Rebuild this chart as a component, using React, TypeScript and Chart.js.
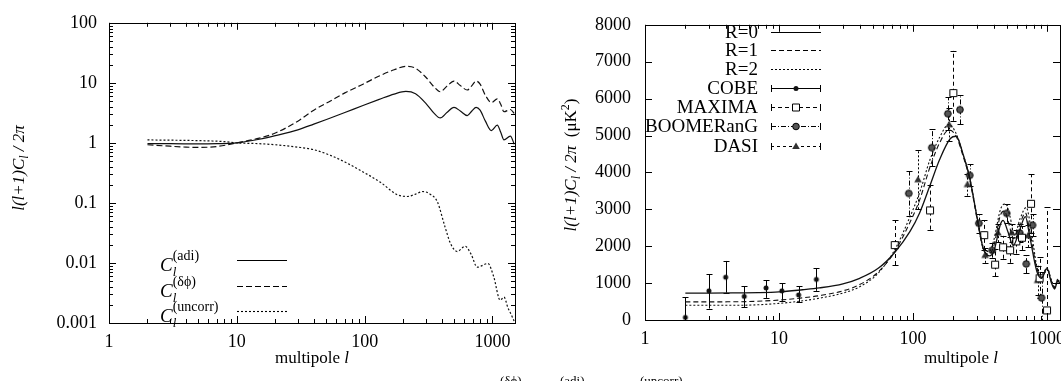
import React, { useEffect, useRef } from "react";
import { Chart, registerables } from "chart.js";
Chart.register(...registerables);

const SERIF = '"Liberation Serif", "Times New Roman", serif';
const fnt = (size: number, style = "") => `${style} ${size}px ${SERIF}`.trim();

// ---------------- Left panel data ----------------
const adiL = [2, 3, 5, 7, 10, 15, 20, 30, 40, 54, 70, 97, 130, 170, 210, 250, 300, 350, 390, 440, 500, 560, 635, 690, 745, 800, 880, 980, 1090, 1160, 1230, 1380, 1480];
const adiV = [0.97, 0.97, 0.96, 0.97, 1.0, 1.15, 1.32, 1.65, 2.05, 2.6, 3.2, 4.2, 5.3, 6.5, 7.2, 6.6, 4.6, 3.1, 2.6, 3.2, 3.9, 3.4, 2.85, 3.4, 3.9, 3.5, 2.3, 1.6, 1.97, 1.5, 1.12, 1.3, 0.95];
const dphiL = [2, 3, 4, 5, 7, 10, 15, 20, 30, 40, 54, 70, 97, 130, 170, 210, 250, 300, 350, 390, 440, 500, 560, 635, 690, 745, 800, 880, 980, 1090, 1160, 1230, 1380, 1480];
const dphiV = [0.93, 0.88, 0.85, 0.84, 0.87, 1.0, 1.2, 1.46, 2.3, 3.5, 5.0, 6.8, 9.5, 13, 16.5, 18.8, 17.5, 12.5, 8.5, 7.1, 8.8, 10.7, 9.0, 7.6, 9.0, 10.7, 9.5, 6.2, 4.7, 5.4, 4.4, 3.3, 3.6, 3.1];
const uncL = [2, 4, 6, 8, 10, 15, 20, 30, 40, 54, 70, 90, 133, 180, 215, 250, 285, 325, 370, 425, 470, 530, 610, 680, 760, 920, 1020, 1150, 1230, 1320, 1420, 1500];
const uncV = [1.12, 1.1, 1.08, 1.05, 1.0, 0.97, 0.93, 0.85, 0.77, 0.62, 0.48, 0.36, 0.22, 0.137, 0.128, 0.14, 0.155, 0.14, 0.105, 0.04, 0.021, 0.0155, 0.019, 0.014, 0.0085, 0.0098, 0.006, 0.0024, 0.0027, 0.0018, 0.0013, 0.001];
const leftXTicks = [1, 10, 100, 1000];
const leftYTicks = [0.001, 0.01, 0.1, 1, 10, 100];
const leftLegendSup = ["(adi)", "(δϕ)", "(uncorr)"];

// ---------------- Right panel data ----------------
const r0L = [2, 3, 5, 7, 10, 15, 20, 30, 40, 55, 73, 95, 112, 134, 158, 190, 210, 236, 265, 300, 333, 370, 400, 450, 470, 510, 560, 620, 690, 740, 840, 910, 1000, 1080, 1140, 1200, 1250];
const r0V = [730, 730, 735, 740, 760, 820, 870, 980, 1130, 1400, 1830, 2400, 2900, 3650, 4350, 4920, 4980, 4500, 3850, 2800, 1950, 1740, 1850, 2600, 2700, 2400, 2020, 2400, 2800, 2300, 1310, 1130, 1390, 1000, 840, 1050, 1000];
const r1L = [2, 5, 10, 15, 20, 30, 40, 55, 73, 95, 112, 134, 158, 185, 210, 236, 265, 300, 333, 370, 400, 450, 480, 520, 560, 620, 690, 740, 840, 910, 1000, 1080, 1140, 1200, 1250];
const r1V = [490, 495, 540, 600, 660, 790, 960, 1300, 1850, 2650, 3250, 4150, 4800, 5150, 4980, 4450, 3800, 2750, 1950, 1780, 2000, 2850, 2950, 2600, 2200, 2550, 2900, 2450, 1400, 1150, 1400, 1050, 880, 1080, 1030];
const r2L = [2, 5, 10, 15, 20, 30, 40, 55, 73, 95, 112, 134, 158, 185, 210, 236, 265, 300, 333, 370, 400, 450, 490, 530, 570, 630, 700, 750, 840, 910, 1000, 1080, 1140, 1200, 1250];
const r2V = [400, 400, 450, 520, 590, 730, 900, 1270, 1900, 2800, 3450, 4350, 4950, 5300, 5050, 4500, 3850, 2800, 2000, 1850, 2150, 3000, 3150, 2800, 2300, 2750, 3050, 2600, 1450, 1180, 1420, 1080, 900, 1100, 1050];

const cobeL = [2, 3, 4, 5.5, 8, 10.5, 14, 19];
const cobeV = [70, 790, 1160, 640, 870, 790, 680, 1100];
const cobeLo = [0, 310, 740, 340, 600, 520, 480, 790];
const cobeHi = [620, 1240, 1600, 920, 1080, 1000, 920, 1400];

const maximaL = [73, 134, 200, 340, 410, 470, 530, 590, 650, 760, 880, 1000];
const maximaV = [2030, 2970, 6150, 2300, 1500, 1970, 1890, 2130, 2230, 3150, 1130, 260];
const maximaLo = [1490, 2450, 5400, 1900, 1180, 1660, 1550, 1800, 1900, 2350, 600, 0];
const maximaHi = [2700, 3650, 7300, 2700, 1920, 2280, 2250, 2450, 2550, 3950, 1700, 3060];

const boomL = [93, 138, 182, 224, 265, 310, 390, 500, 625, 700, 780, 910];
const boomV = [3430, 4670, 5590, 5700, 3920, 2620, 1890, 2890, 2360, 1520, 2570, 600];
const boomErr = [600, 500, 450, 400, 300, 250, 200, 250, 250, 250, 300, 700];

const dasiL = [109, 186, 255, 345, 430, 545, 720, 850];
const dasiV = [3800, 5290, 3670, 1750, 2360, 2360, 2280, 1070];
const dasiErr = [800, 450, 300, 200, 250, 250, 300, 400];

const rightXTicks = [1, 10, 100, 1000];
const rightYTicks = [0, 1000, 2000, 3000, 4000, 5000, 6000, 7000, 8000];
const rightLegendLabels = ["R=0", "R=1", "R=2", "COBE", "MAXIMA", "BOOMERanG", "DASI"];

// cut-off caption fragments at the bottom of the scan
const captionBits = ["(δϕ)", "(adi)", "(uncorr)"];

// ---------------- helpers ----------------
const pts = (xs: number[], ys: number[]) => xs.map((x, i) => ({ x, y: ys[i] }));
const logMinor = (lo: number, hi: number) => {
  const out: number[] = [];
  for (let d = Math.floor(Math.log10(lo)); d <= Math.ceil(Math.log10(hi)); d++) {
    for (let k = 2; k <= 9; k++) {
      const v = k * Math.pow(10, d);
      if (v > lo && v < hi) out.push(v);
    }
  }
  return out;
};

type Run = { t: string; f: string; dy?: number };
const drawRuns = (ctx: CanvasRenderingContext2D, runs: Run[], x: number, y: number, align = "left") => {
  let w = 0;
  runs.forEach((r) => { ctx.font = r.f; w += ctx.measureText(r.t).width; });
  let cx = align === "center" ? x - w / 2 : align === "right" ? x - w : x;
  ctx.textAlign = "left";
  ctx.textBaseline = "alphabetic";
  runs.forEach((r) => { ctx.font = r.f; ctx.fillText(r.t, cx, y + (r.dy || 0)); cx += ctx.measureText(r.t).width; });
};

const drawMarker = (ctx: CanvasRenderingContext2D, style: string, x: number, y: number) => {
  ctx.save();
  ctx.setLineDash([]);
  ctx.lineWidth = 1;
  ctx.strokeStyle = "#000";
  ctx.beginPath();
  if (style === "circleSmall") { ctx.fillStyle = "#111"; ctx.arc(x, y, 2.5, 0, Math.PI * 2); ctx.fill(); }
  else if (style === "square") { ctx.fillStyle = "#fff"; ctx.rect(x - 3.5, y - 3.5, 7, 7); ctx.fill(); ctx.stroke(); }
  else if (style === "circle") { ctx.fillStyle = "#555"; ctx.arc(x, y, 3.3, 0, Math.PI * 2); ctx.fill(); ctx.stroke(); }
  else if (style === "triangle") { ctx.fillStyle = "#333"; ctx.moveTo(x, y - 4); ctx.lineTo(x + 3.8, y + 2.6); ctx.lineTo(x - 3.8, y + 2.6); ctx.closePath(); ctx.fill(); }
  ctx.restore();
};

const frameTicks = {
  id: "frameTicks",
  afterDraw(chart: any, _a: any, opts: any) {
    const { ctx, chartArea: a, scales } = chart;
    const xs = scales.x, ys = scales.y;
    ctx.save();
    ctx.strokeStyle = "#000";
    ctx.lineWidth = 1;
    ctx.setLineDash([]);
    ctx.strokeRect(Math.round(a.left) + 0.5, Math.round(a.top) + 0.5, Math.round(a.right - a.left), Math.round(a.bottom - a.top));
    const line = (x1: number, y1: number, x2: number, y2: number) => { ctx.beginPath(); ctx.moveTo(x1, y1); ctx.lineTo(x2, y2); ctx.stroke(); };
    const tx = (v: number, len: number) => { const p = Math.round(xs.getPixelForValue(v)) + 0.5; line(p, a.bottom, p, a.bottom - len); line(p, a.top, p, a.top + len); };
    const ty = (v: number, len: number) => { const p = Math.round(ys.getPixelForValue(v)) + 0.5; line(a.left, p, a.left + len, p); line(a.right, p, a.right - len, p); };
    (opts.xMajor || []).forEach((v: number) => tx(v, 7));
    (opts.xMinor || []).forEach((v: number) => tx(v, 4));
    (opts.yMajor || []).forEach((v: number) => ty(v, 7));
    (opts.yMinor || []).forEach((v: number) => ty(v, 4));
    ctx.restore();
  },
};

const errorBars = {
  id: "errorBars",
  beforeDatasetsDraw(chart: any) {
    const { ctx, scales, chartArea: a } = chart;
    const xs = scales.x, ys = scales.y;
    ctx.save();
    ctx.beginPath();
    ctx.rect(a.left, a.top, a.right - a.left, a.bottom - a.top);
    ctx.clip();
    ctx.strokeStyle = "#000";
    ctx.lineWidth = 1;
    chart.data.datasets.forEach((ds: any) => {
      if (!ds.errLo) return;
      ds.data.forEach((p: any, i: number) => {
        const px = Math.round(xs.getPixelForValue(p.x)) + 0.5;
        const y1 = ys.getPixelForValue(ds.errLo[i]);
        const y2 = ys.getPixelForValue(ds.errHi[i]);
        ctx.setLineDash(ds.errDash || []);
        ctx.beginPath(); ctx.moveTo(px, y1); ctx.lineTo(px, y2); ctx.stroke();
        ctx.setLineDash([]);
        ctx.beginPath();
        ctx.moveTo(px - 3, Math.round(y1) + 0.5); ctx.lineTo(px + 3, Math.round(y1) + 0.5);
        ctx.moveTo(px - 3, Math.round(y2) + 0.5); ctx.lineTo(px + 3, Math.round(y2) + 0.5);
        ctx.stroke();
      });
    });
    ctx.restore();
  },
};

const leftAnnot = {
  id: "leftAnnot",
  afterDraw(chart: any) {
    const ctx: CanvasRenderingContext2D = chart.ctx;
    ctx.save();
    ctx.fillStyle = "#000";
    ctx.save();
    ctx.translate(24, 168);
    ctx.rotate(-Math.PI / 2);
    drawRuns(ctx, [
      { t: "l(l+1)C", f: fnt(17, "italic") },
      { t: "l", f: fnt(12, "italic"), dy: 4 },
      { t: " / 2π", f: fnt(17, "italic") },
    ], 0, 0, "center");
    ctx.restore();
    drawRuns(ctx, [{ t: "multipole ", f: fnt(17) }, { t: "l", f: fnt(17, "italic") }], 312, 363, "center");
    const rowsY = [260, 286, 311];
    const dashes = [[], [6, 3], [2, 2]];
    rowsY.forEach((ly, i) => {
      ctx.font = fnt(19, "italic");
      ctx.fillText("C", 160, ly + 11);
      const cw = ctx.measureText("C").width;
      ctx.font = fnt(13, "italic");
      ctx.fillText("l", 160 + cw, ly + 16);
      ctx.font = fnt(14);
      ctx.fillText(leftLegendSup[i], 160 + cw, ly);
      ctx.save();
      ctx.strokeStyle = "#000";
      ctx.lineWidth = 1.1;
      ctx.setLineDash(dashes[i]);
      ctx.beginPath(); ctx.moveTo(237, ly + 0.5); ctx.lineTo(287, ly + 0.5); ctx.stroke();
      ctx.restore();
    });
    ctx.restore();
  },
};

const rightAnnot = {
  id: "rightAnnot",
  afterDraw(chart: any) {
    const ctx: CanvasRenderingContext2D = chart.ctx;
    ctx.save();
    ctx.fillStyle = "#000";
    ctx.save();
    ctx.translate(46, 165);
    ctx.rotate(-Math.PI / 2);
    drawRuns(ctx, [
      { t: "l(l+1)C", f: fnt(17, "italic") },
      { t: "l", f: fnt(12, "italic"), dy: 4 },
      { t: " / 2π", f: fnt(17, "italic") },
      { t: "  (μK", f: fnt(17) },
      { t: "2", f: fnt(12), dy: -7 },
      { t: ")", f: fnt(17) },
    ], 0, 0, "center");
    ctx.restore();
    drawRuns(ctx, [{ t: "multipole ", f: fnt(17) }, { t: "l", f: fnt(17, "italic") }], 431, 363, "center");
    const rowY = [32, 50, 69, 88, 107, 126, 146];
    const dashes = [[], [5, 3], [2, 2], [], [4, 3], [5, 2, 1, 2], [3, 3]];
    const markers = ["", "", "", "circleSmall", "square", "circle", "triangle"];
    rowY.forEach((y, i) => {
      ctx.font = fnt(19);
      ctx.textAlign = "right";
      ctx.textBaseline = "middle";
      ctx.fillText(rightLegendLabels[i], 228, y + 1);
      ctx.save();
      ctx.strokeStyle = "#000";
      ctx.lineWidth = 1;
      ctx.setLineDash(dashes[i]);
      ctx.beginPath(); ctx.moveTo(241, y + 0.5); ctx.lineTo(291, y + 0.5); ctx.stroke();
      ctx.setLineDash([]);
      if (markers[i]) {
        ctx.beginPath();
        ctx.moveTo(241.5, y - 3); ctx.lineTo(241.5, y + 4);
        ctx.moveTo(290.5, y - 3); ctx.lineTo(290.5, y + 4);
        ctx.stroke();
        drawMarker(ctx, markers[i], 266, y + 0.5);
      }
      ctx.restore();
    });
    ctx.restore();
  },
};

const customPoint = (style: string) => {
  const c = document.createElement("canvas");
  c.width = 12; c.height = 12;
  const g = c.getContext("2d")!;
  drawMarker(g, style, 6, 6);
  return c;
};

const tickFont = { family: SERIF, size: 18 };

const curve = (label: string, data: any[], dash: number[], width = 1.2) => ({
  label, data, showLine: true, borderColor: "#111", borderWidth: width, borderDash: dash,
  pointRadius: 0, fill: false, cubicInterpolationMode: "monotone" as const,
});

export default function App() {
  const leftRef = useRef<HTMLCanvasElement>(null);
  const rightRef = useRef<HTMLCanvasElement>(null);

  useEffect(() => {
    const left = new Chart(leftRef.current!, {
      type: "scatter",
      data: {
        datasets: [
          curve("adi", pts(adiL, adiV), []),
          curve("dphi", pts(dphiL, dphiV), [6, 3]),
          curve("uncorr", pts(uncL, uncV), [2, 2]),
        ],
      },
      options: {
        animation: false,
        responsive: false,
        maintainAspectRatio: false,
        layout: { padding: { left: 0, top: 17, right: 15, bottom: 0 } },
        plugins: {
          legend: { display: false },
          tooltip: { enabled: false },
          frameTicks: { xMajor: leftXTicks, xMinor: logMinor(1, 1500), yMajor: leftYTicks, yMinor: logMinor(0.001, 100) },
        } as any,
        scales: {
          x: {
            type: "logarithmic", min: 1, max: 1500, position: "bottom",
            grid: { display: false, drawTicks: false }, border: { display: false },
            ticks: { font: tickFont, color: "#000", padding: 8, autoSkip: false, maxRotation: 0, callback: (v: any) => String(v) },
            afterBuildTicks: (s: any) => { s.ticks = leftXTicks.map((v) => ({ value: v })); },
            afterFit: (s: any) => { s.height = 58; },
          },
          y: {
            type: "logarithmic", min: 0.001, max: 100,
            grid: { display: false, drawTicks: false }, border: { display: false },
            ticks: { font: tickFont, color: "#000", padding: 12, autoSkip: false, callback: (v: any) => String(v) },
            afterBuildTicks: (s: any) => { s.ticks = leftYTicks.map((v) => ({ value: v })); },
            afterFit: (s: any) => { s.width = 109; },
          },
        },
      },
      plugins: [frameTicks, leftAnnot],
    });

    const right = new Chart(rightRef.current!, {
      type: "scatter",
      data: {
        datasets: [
          curve("R=0", pts(r0L, r0V), [], 1.3),
          curve("R=1", pts(r1L, r1V), [5, 3], 1.1),
          curve("R=2", pts(r2L, r2V), [2, 2], 1.1),
          { label: "COBE", data: pts(cobeL, cobeV), pointStyle: customPoint("circleSmall"), pointRadius: 3, errLo: cobeLo, errHi: cobeHi, errDash: [] } as any,
          { label: "MAXIMA", data: pts(maximaL, maximaV), pointStyle: customPoint("square"), pointRadius: 4, errLo: maximaLo, errHi: maximaHi, errDash: [4, 3] } as any,
          { label: "BOOMERanG", data: pts(boomL, boomV), pointStyle: customPoint("circle"), pointRadius: 4, errLo: boomV.map((v, i) => v - boomErr[i]), errHi: boomV.map((v, i) => v + boomErr[i]), errDash: [5, 2, 1, 2] } as any,
          { label: "DASI", data: pts(dasiL, dasiV), pointStyle: customPoint("triangle"), pointRadius: 4, errLo: dasiV.map((v, i) => v - dasiErr[i]), errHi: dasiV.map((v, i) => v + dasiErr[i]), errDash: [2, 2] } as any,
        ],
      },
      options: {
        animation: false,
        responsive: false,
        maintainAspectRatio: false,
        layout: { padding: { left: 0, top: 15, right: 31, bottom: 0 } },
        plugins: {
          legend: { display: false },
          tooltip: { enabled: false },
          frameTicks: { xMajor: rightXTicks, xMinor: logMinor(1, 1250), yMajor: rightYTicks, yMinor: [] },
        } as any,
        scales: {
          x: {
            type: "logarithmic", min: 1, max: 1250, position: "bottom",
            grid: { display: false, drawTicks: false }, border: { display: false },
            ticks: { font: tickFont, color: "#000", padding: 8, autoSkip: false, maxRotation: 0, callback: (v: any) => String(v) },
            afterBuildTicks: (s: any) => { s.ticks = rightXTicks.map((v) => ({ value: v })); },
            afterFit: (s: any) => { s.height = 61; },
          },
          y: {
            type: "linear", min: 0, max: 8000,
            grid: { display: false, drawTicks: false }, border: { display: false },
            ticks: { font: tickFont, color: "#000", padding: 14, autoSkip: false, callback: (v: any) => String(v) },
            afterBuildTicks: (s: any) => { s.ticks = rightYTicks.map((v) => ({ value: v })); },
            afterFit: (s: any) => { s.width = 115; },
          },
        },
      },
      plugins: [errorBars, frameTicks, rightAnnot],
    });

    return () => { left.destroy(); right.destroy(); };
  }, []);

  const bitLeft = [500, 560, 640];
  return (
    <div style={{ position: "absolute", left: 0, top: 0, width: 1061, height: 381, overflow: "hidden", background: "#fff" }}>
      <canvas ref={leftRef} width={530} height={381} style={{ position: "absolute", left: 0, top: 0, width: 530, height: 381 }} />
      <canvas ref={rightRef} width={561} height={381} style={{ position: "absolute", left: 530, top: 0, width: 561, height: 381 }} />
      {captionBits.map((t, i) => (
        <span key={t} style={{ position: "absolute", left: bitLeft[i], top: 374, font: `13px ${SERIF}`, lineHeight: "13px", color: "#000", whiteSpace: "nowrap" }}>{t}</span>
      ))}
    </div>
  );
}
